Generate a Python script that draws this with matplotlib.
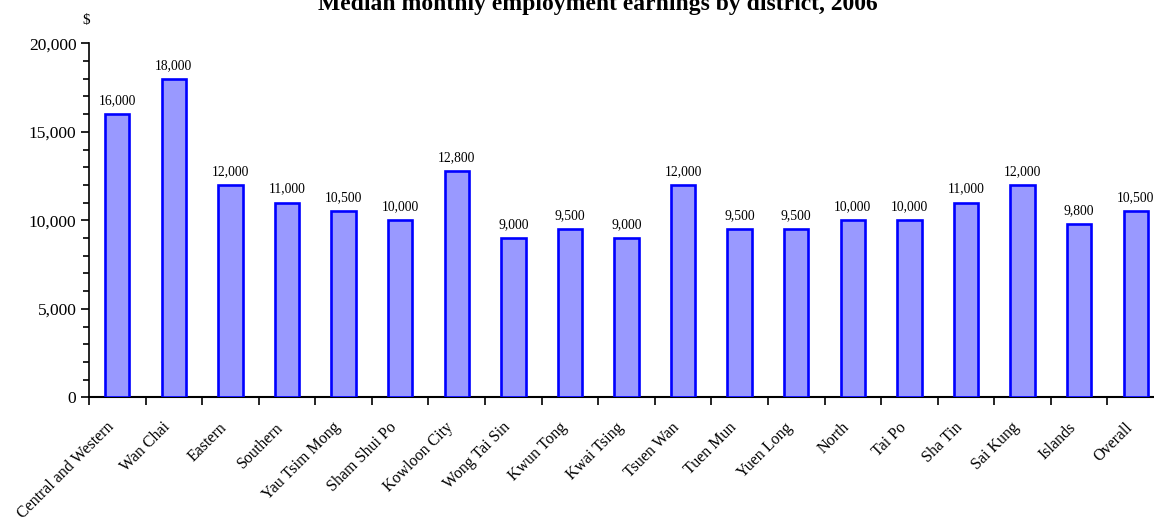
import matplotlib
matplotlib.use("Agg")
import matplotlib.pyplot as plt
import numpy as np
from matplotlib.ticker import FuncFormatter, MultipleLocator

# Dados do gráfico
distritos = ["Central and Western", "Wan Chai", "Eastern", "Southern", "Yau Tsim Mong",
             "Sham Shui Po", "Kowloon City", "Wong Tai Sin", "Kwun Tong", "Kwai Tsing",
             "Tsuen Wan", "Tuen Mun", "Yuen Long", "North", "Tai Po", "Sha Tin",
             "Sai Kung", "Islands", "Overall"]
rendimentos = [16000, 18000, 12000, 11000, 10500, 10000, 12800, 9000, 9500, 9000,
               12000, 9500, 9500, 10000, 10000, 11000, 12000, 9800, 10500]

plt.rcParams["font.family"] = ["Liberation Serif", "DejaVu Serif"]

fig = plt.figure(figsize=(11.54, 5.22), dpi=100)
ax = fig.add_axes([89 / 1154, 1 - 397.3 / 522, 1075 / 1154, 354 / 522])

x = np.arange(len(distritos))
barras = ax.bar(x, rendimentos, width=0.43, color="#9999FF", edgecolor="#0000FF",
                linewidth=1.9, zorder=3)

for xi, v in zip(x, rendimentos):
    ax.annotate(f"{v:,}", (xi, v), xytext=(0, 5), textcoords="offset points",
                ha="center", va="bottom", fontsize=9.8)

ax.set_xlim(-0.5, len(distritos) - 0.5)
ax.set_ylim(0, 20000)
ax.yaxis.set_major_locator(MultipleLocator(5000))
ax.yaxis.set_minor_locator(MultipleLocator(1000))
ax.yaxis.set_major_formatter(FuncFormatter(lambda v, p: f"{int(v):,}"))
ax.tick_params(axis="y", which="major", length=6, width=1.2, labelsize=12.5, pad=3)
ax.tick_params(axis="y", which="minor", length=4, width=1.2)

# ticks do eixo x nas fronteiras das categorias
ax.set_xticks(np.arange(len(distritos) + 1) - 0.5)
ax.set_xticklabels([])
ax.tick_params(axis="x", which="major", length=6, width=1.2)
for xi, nome in zip(x, distritos):
    ax.text(xi - 0.2, -1250, nome, rotation=45, ha="right", va="top",
            rotation_mode="anchor", fontsize=11.5)

for lado in ["top", "right"]:
    ax.spines[lado].set_visible(False)
ax.spines["left"].set_linewidth(1.2)
ax.spines["bottom"].set_linewidth(1.5)

fig.text(86 / 1154, 1 - 24 / 522, "$", fontsize=11, ha="center", va="baseline")
fig.text(598 / 1154, 1 - 10 / 522, "Median monthly employment earnings by district, 2006",
         fontsize=17, fontweight="bold", ha="center", va="baseline")

fig.savefig("out.png", dpi=100)
